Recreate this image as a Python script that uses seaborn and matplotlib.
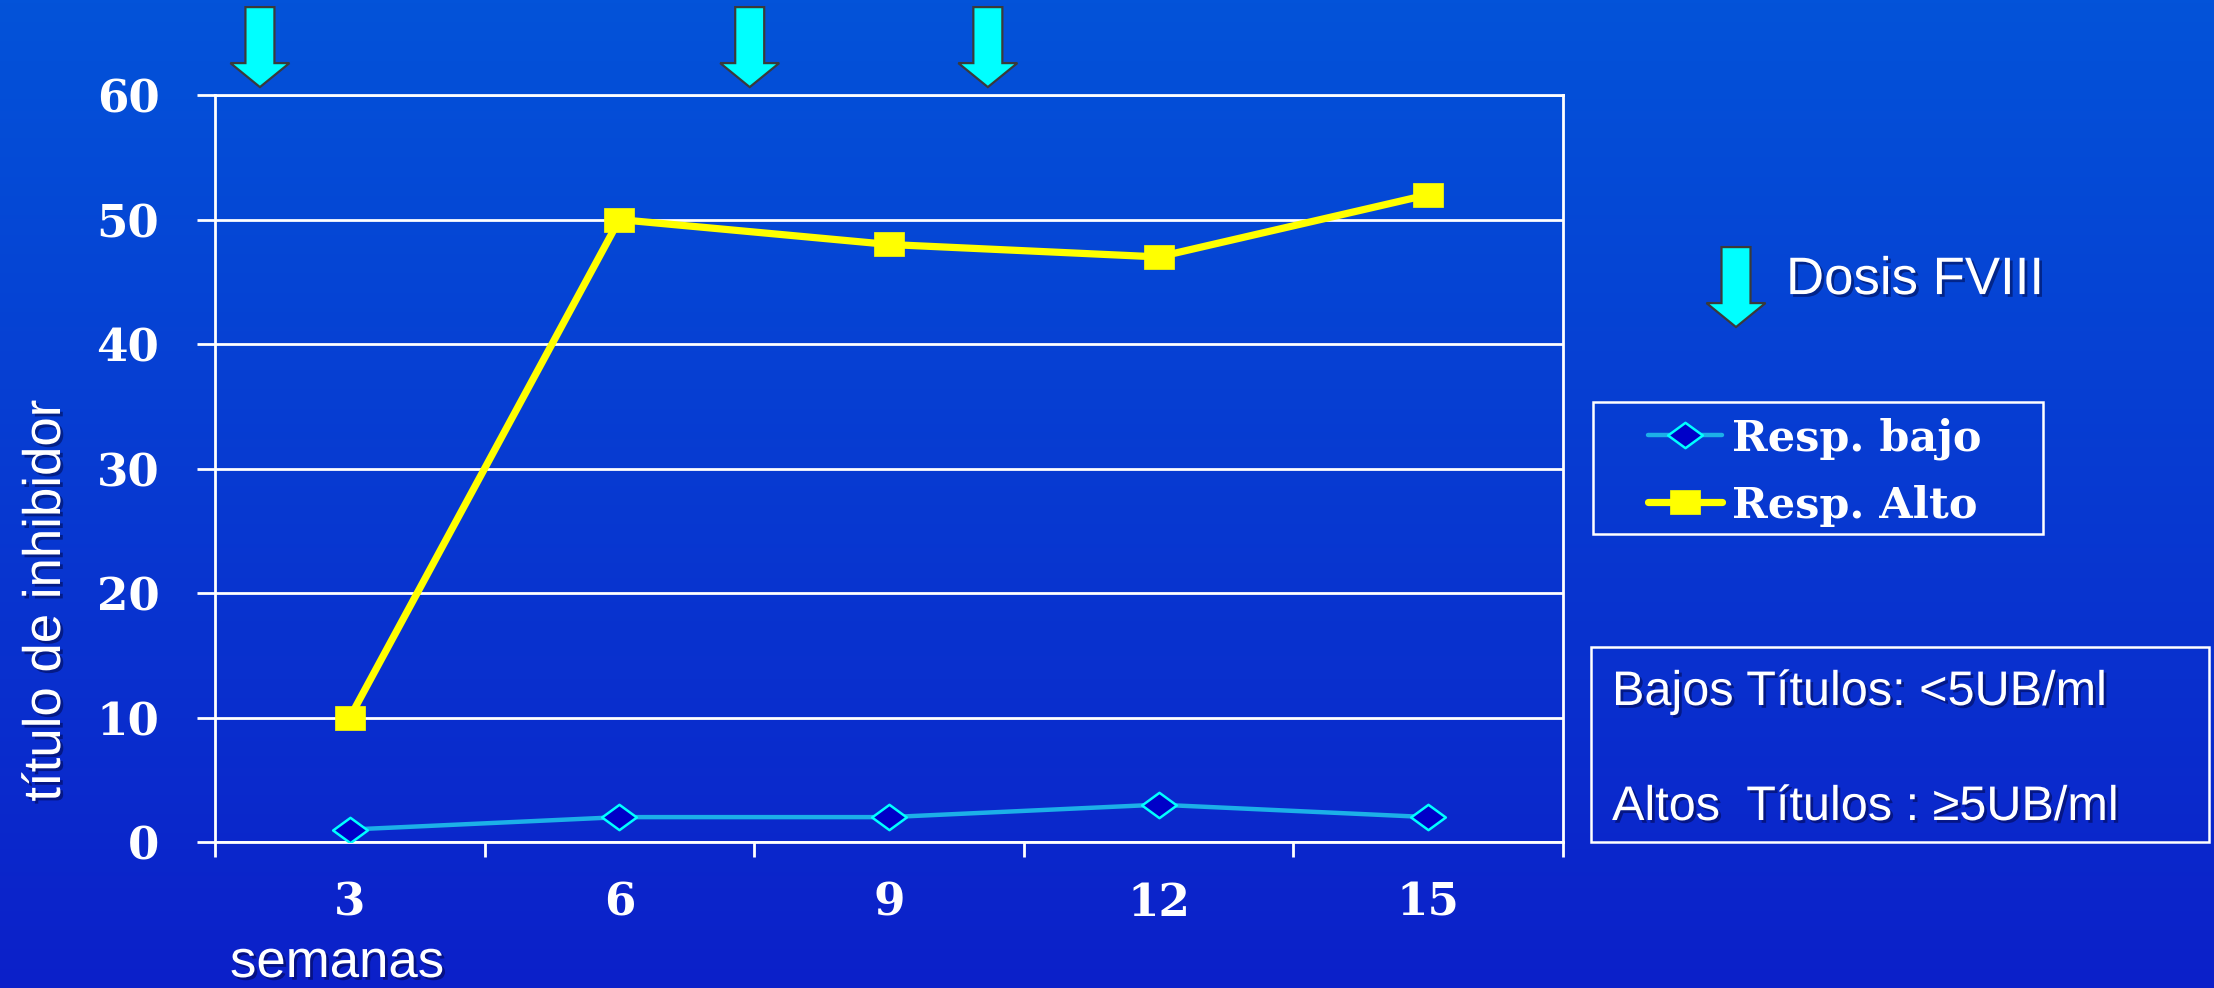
import numpy as np
import matplotlib
matplotlib.use("Agg")
import matplotlib.pyplot as plt
import matplotlib.patheffects as pe
from matplotlib.path import Path
from matplotlib.patches import Polygon, Rectangle
from matplotlib.font_manager import FontProperties
import seaborn as sns

# Inhibitor titre per week for the two responder groups
semanas = [3, 6, 9, 12, 15]
resp_bajo = [1, 2, 2, 3, 2]
resp_alto = [10, 50, 48, 47, 52]
y_ticks = [0, 10, 20, 30, 40, 50, 60]
# Weeks at which a FVIII dose was given
dosis_semanas = [2.0, 7.45, 10.1]

W, H, DPI = 2214, 989, 100
sns.set_style("ticks")

fig = plt.figure(figsize=(W / DPI, 9.889), dpi=DPI)


def fx(px):
    return px / W


def fy(py):
    return 1 - py / H


# Vertical blue gradient background
bg = fig.add_axes([0, 0, 1, 1], zorder=-10)
top_c = np.array([0x03, 0x53, 0xD9]) / 255
bot_c = np.array([0x0C, 0x20, 0xC9]) / 255
t = np.linspace(0, 1, 256)[:, None, None]
grad = top_c + (bot_c - top_c) * t
bg.imshow(np.repeat(grad, 4, axis=1), aspect="auto", extent=[0, 1, 0, 1])
bg.set_axis_off()

ax = fig.add_axes([fx(215), fy(843), fx(1563 - 215), (843 - 96) / H])
ax.patch.set_alpha(0)

diamond = Path([(-1, 0), (0, 0.73), (1, 0), (0, -0.73), (-1, 0)], closed=True)
rect = Path([(-1, -0.78), (1, -0.78), (1, 0.78), (-1, 0.78), (-1, -0.78)], closed=True)

sns.lineplot(x=semanas, y=resp_bajo, ax=ax, color="#1CB0E8", lw=3.2,
             marker=diamond, markersize=25, markerfacecolor="#0000C8",
             markeredgecolor="#00FFFF", markeredgewidth=1.8,
             label="Resp. bajo", zorder=4)
sns.lineplot(x=semanas, y=resp_alto, ax=ax, color="#FFFF00", lw=5.2,
             marker=rect, markersize=22, markerfacecolor="#FFFF00",
             markeredgecolor="#FFFF00", markeredgewidth=0.5,
             label="Resp. Alto", zorder=5)

ax.set_xlim(1.5, 16.5)
ax.set_ylim(0, 60)
ax.set_yticks(y_ticks)
ax.set_xticks(semanas)
ax.set_xticks(np.arange(1.5, 17, 3), minor=True)
ax.set_xlabel("")
ax.set_ylabel("")

ax.grid(axis="y", color="white", lw=2.0)
ax.set_axisbelow(True)
for side in ["left", "bottom", "right", "top"]:
    ax.spines[side].set_color("white")
    ax.spines[side].set_linewidth(2.0)
    ax.spines[side].set_visible(True)

ax.tick_params(axis="y", which="major", direction="out", length=13, width=2.0,
               color="white", pad=27, labelcolor="white")
ax.tick_params(axis="x", which="major", length=0, pad=28, labelcolor="white")
ax.tick_params(axis="x", which="minor", direction="out", length=11, width=2.0,
               color="white")
for lab in ax.get_xticklabels() + ax.get_yticklabels():
    lab.set_fontfamily("DejaVu Serif")
    lab.set_fontweight("bold")
    lab.set_fontsize(32.5)

shadow = [pe.withSimplePatchShadow(offset=(2, -2), shadow_rgbFace="#000030", alpha=0.45)]

fig.text(fx(60), fy(602), "título de inhibidor", rotation=90, rotation_mode="anchor",
         ha="center", va="baseline", fontsize=38, family="Liberation Sans",
         color="white", path_effects=shadow)
fig.text(fx(230), fy(978), "semanas", ha="left", va="baseline", fontsize=38,
         family="Liberation Sans", color="white", path_effects=shadow)


def arrow_poly(xc, ytop):
    pts = [(xc - 14.5, ytop), (xc + 14.5, ytop), (xc + 14.5, ytop + 56),
           (xc + 29.5, ytop + 56), (xc, ytop + 80), (xc - 29.5, ytop + 56),
           (xc - 14.5, ytop + 56)]
    return Polygon([(fx(x), fy(y)) for x, y in pts], closed=True,
                   transform=fig.transFigure, facecolor="#00FFFF",
                   edgecolor="#3A3A3A", lw=1.6, zorder=10)


for w in dosis_semanas:
    xc = ax.transData.transform((w, 0))[0]
    fig.add_artist(arrow_poly(xc, 8))

# Key for the dose arrows
fig.add_artist(arrow_poly(1736, 248))
fig.text(fx(1786), fy(295), "Dosis FVIII", ha="left", va="baseline", fontsize=38,
         family="Liberation Sans", color="white", path_effects=shadow)

# Series legend with a plain white frame
handles, labels = ax.get_legend_handles_labels()
ax.legend(handles, labels, loc="upper left", bbox_to_anchor=(fx(1648), fy(418)),
          bbox_transform=fig.transFigure, frameon=False,
          prop=FontProperties(family="DejaVu Serif", weight="bold", size=31),
          labelcolor="white", handlelength=1.72, handletextpad=0.22,
          labelspacing=0.56, borderpad=0, borderaxespad=0)
fig.add_artist(Rectangle((fx(1593), fy(535)), fx(2043 - 1593), (535 - 403) / H,
                         transform=fig.transFigure, fill=False, edgecolor="white",
                         lw=1.8, zorder=10))

# Titre thresholds box
fig.add_artist(Rectangle((fx(1591), fy(843)), fx(2209 - 1591), (843 - 648) / H,
                         transform=fig.transFigure, fill=False, edgecolor="white",
                         lw=1.8, zorder=10))
fig.text(fx(1612), fy(706), "Bajos Títulos: <5UB/ml", ha="left", va="baseline",
         fontsize=35, family="Liberation Sans", color="white", path_effects=shadow)
fig.text(fx(1612), fy(821), "Altos  Títulos : ≥5UB/ml", ha="left", va="baseline",
         fontsize=35, family="Liberation Sans", color="white", path_effects=shadow)

fig.savefig("out.png", dpi=DPI)
